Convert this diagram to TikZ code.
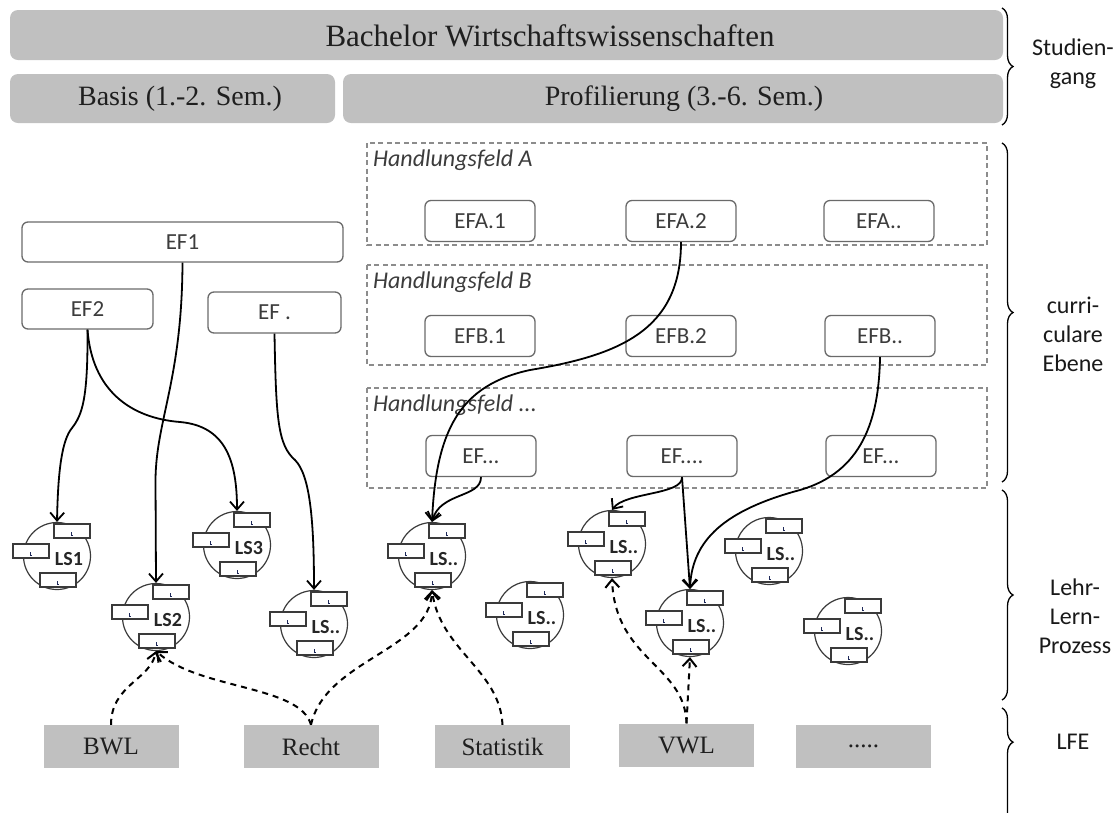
\documentclass[tikz,border=0pt]{standalone}
\usepackage{fontspec}
\setmainfont{Liberation Serif}
\newfontfamily\carl{Carlito}
\usetikzlibrary{arrows.meta,decorations.pathreplacing}
\definecolor{barfill}{HTML}{C0C0C0}
\definecolor{efline}{HTML}{6A6A6A}
\definecolor{eftext}{HTML}{3C3C3C}
\definecolor{hfline}{HTML}{8C8C8C}
\definecolor{tickc}{HTML}{1F2A5A}
\definecolor{lsline}{HTML}{3A3A3A}

\newcommand{\LSglyph}[4]{%
  \node[lscirc] (#1) at (#2,#3) {};
  \begin{scope}[shift={(#2,#3)}]
    \node[lsrect] (#1-t) at (15,-25) {};
    \node[lsrect] (#1-l) at (-26,-5) {};
    \node[lsrect] (#1-b) at (1,24) {};
    \node[lslabel] (#1-n) at (12,3) {#4};
  \end{scope}
  \draw[tickc,line width=0.8pt] ([shift={(-1,1)}]#1-t.center) -- ++(0,3) -- ++(1.5,0);
  \draw[tickc,line width=0.8pt] ([shift={(-1,1)}]#1-l.center) -- ++(0,3) -- ++(1.5,0);
  \draw[tickc,line width=0.8pt] ([shift={(-1,1)}]#1-b.center) -- ++(0,3) -- ++(1.5,0);
}

\begin{document}
\begin{tikzpicture}[x=1pt,y=-1pt,
  bar/.style={fill=barfill, rounded corners=8pt, draw=none, inner sep=0pt},
  bartext/.style={text=black!88, inner sep=0pt},
  efbox/.style={draw=efline, line width=1.3pt, rounded corners=6pt, fill=white,
    font=\carl\fontsize{23}{27}\selectfont, text=eftext, minimum height=41pt,
    minimum width=110pt, inner sep=0pt},
  hfbox/.style={draw=hfline, line width=1.1pt, dash pattern=on 5pt off 3.5pt},
  hflabel/.style={font=\carl\itshape\fontsize{24}{28}\selectfont, text=eftext,
    anchor=base west, inner sep=0pt},
  lfe/.style={fill=barfill, minimum width=135pt, minimum height=43pt, inner sep=0pt,
    font=\fontsize{25}{29}\selectfont, text=black!88},
  lscirc/.style={circle, draw=lsline, line width=1.2pt, minimum size=67pt, inner sep=0pt},
  lsrect/.style={draw=lsline, fill=white, line width=1.2pt, minimum width=36pt,
    minimum height=14pt, inner sep=0pt},
  lslabel/.style={font=\carl\bfseries\fontsize{20}{24}\selectfont, text=black!85, inner sep=0pt},
  conn/.style={line width=1.8pt, -{Straight Barb[length=8pt,width=14pt,line width=1.8pt]}},
  dconn/.style={line width=2pt, dash pattern=on 6pt off 5pt,
    -{Straight Barb[length=8pt,width=14pt,line width=2pt]}},
  side/.style={font=\carl\fontsize{24}{29}\selectfont, align=center, text=black!90, inner sep=0pt},
  brc/.style={line width=1.3pt, decorate}
]
\useasboundingbox (0,0) rectangle (1118,812);
\clip (0,0) rectangle (1118,812);

% top bars
\node[bar, minimum width=993pt, minimum height=50pt] (bach) at (506.5,35) {};
\node[bartext, font=\fontsize{31}{35}\selectfont] (bacht) at (550,36) {Bachelor Wirtschaftswissenschaften};
\node[bar, minimum width=325pt, minimum height=49pt] (basis) at (172.5,98.5) {};
\node[bartext, font=\fontsize{28}{32}\selectfont] (basist) at (180,99) {Basis (1.-2. Sem.)};
\node[bar, minimum width=660pt, minimum height=49pt] (prof) at (673,98.5) {};
\node[bartext, font=\fontsize{28}{32}\selectfont] (proft) at (684,99) {Profilierung (3.-6. Sem.)};

% Handlungsfelder
\draw[hfbox] (367,143) rectangle (987,245);
\draw[hfbox] (367,265) rectangle (987,365);
\draw[hfbox] (367,388) rectangle (987,488);
\node[hflabel] (hfa) at (373,166) {Handlungsfeld A};
\node[hflabel] (hfb) at (373,288) {Handlungsfeld B};
\node[hflabel] (hfc) at (373,411) {Handlungsfeld ...};

\node[efbox] (efa1) at (480,221) {EFA.1};
\node[efbox] (efa2) at (681,221) {EFA.2};
\node[efbox] (efad) at (879,221) {EFA..};
\node[efbox] (efb1) at (480,336) {EFB.1};
\node[efbox] (efb2) at (681,336) {EFB.2};
\node[efbox] (efbd) at (880,336) {EFB..};
\node[efbox] (efc1) at (481,456) {EF...};
\node[efbox] (efc2) at (682,456) {EF....};
\node[efbox] (efc3) at (881,456) {EF...};

% Basis EF nodes
\node[efbox, minimum width=321pt, minimum height=40pt] (ef1) at (182.5,242) {EF1};
\node[efbox, minimum width=131pt, minimum height=40pt] (ef2) at (87.5,309) {EF2};
\node[efbox, minimum width=133pt, minimum height=41pt] (efp) at (274.5,312.5) {EF .};

% LS glyphs
\LSglyph{ls1}{57}{556}{LS1}
\LSglyph{ls3}{237}{545}{LS3}
\LSglyph{ls2}{156}{617}{LS2}
\LSglyph{lsa}{314}{624}{LS..}
\LSglyph{lsb}{432}{556}{LS..}
\LSglyph{lsc}{530}{615}{LS..}
\LSglyph{lsd}{612}{544}{LS..}
\LSglyph{lse}{690}{623}{LS..}
\LSglyph{lsf}{769}{551}{LS..}
\LSglyph{lsg}{848}{631}{LS..}

% LFE boxes
\node[lfe] (bwl) at (111,746.5) {BWL};
\node[lfe] (recht) at (311,746.5) {Recht};
\node[lfe] (stat) at (502.5,746.5) {Statistik};
\node[lfe] (vwl) at (686.5,745) {VWL};
\node[lfe] (more) at (863.5,746.5) {.....};

% solid connectors
\draw[conn] (ef1.south) .. controls (182,380) and (156,420) .. (155.5,480) -- (ls2.north);
\draw[conn] (ef2.south) .. controls (88,400) and (82,415) .. (72,428) .. controls (62,440) and (58,470) .. (ls1.north);
\draw[conn] (ef2.south) .. controls (92,390) and (130,418) .. (180,422) .. controls (225,426) and (237,460) .. (ls3.north);
\draw[conn] (efp.south) .. controls (276,420) and (278,445) .. (295,460) .. controls (310,475) and (314,520) .. (lsa.north);
\draw[conn] (efa2.south) .. controls (681,330) and (620,355) .. (530,370) .. controls (460,385) and (436,430) .. (lsb.north);
\draw[conn] (efc1.south) .. controls (481,498) and (440,492) .. (lsb.north);
\draw[conn] (efbd.south) .. controls (879,420) and (862,472) .. (800,490) .. controls (725,510) and (692,540) .. (lse.north);
\draw[conn] (efc2.south) -- (lse.north);
\draw[conn] (efc2.south) .. controls (683,495) and (625,492) .. (lsd.north);

% dashed connectors
\draw[dconn] (bwl.north) .. controls (111,685) and (150,680) .. (ls2.south);
\draw[dconn] (recht.north) .. controls (300,685) and (200,690) .. (ls2.south);
\draw[dconn] (recht.north) .. controls (325,660) and (430,650) .. (lsb.south);
\draw[dconn] (stat.north) .. controls (500,670) and (440,650) .. (lsb.south);
\draw[dconn] (vwl.north) .. controls (685,665) and (615,660) .. (lsd.south);
\draw[dconn] (vwl.north) -- (lse.south);

% braces
\draw[brc, decoration={brace, amplitude=11pt}] (1002,8) -- (1002,125);
\draw[brc, decoration={brace, amplitude=11pt}] (1002,143) -- (1002,482);
\draw[brc, decoration={brace, amplitude=11pt}] (1002,490) -- (1002,700);
\draw[brc, decoration={brace, amplitude=11pt, aspect=0.28}] (1002,708) -- (1002,830);

\node[side] (sg) at (1073,64) {Studien-\\gang};
\node[side] (ce) at (1073,334) {curri-\\culare\\Ebene};
\node[side] (llp) at (1075,616) {Lehr-\\Lern-\\Prozess};
\node[side] (lfet) at (1073,742) {LFE};
\end{tikzpicture}
\end{document}
